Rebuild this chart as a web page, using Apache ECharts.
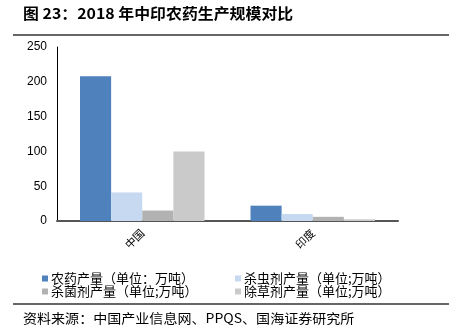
<!DOCTYPE html>
<html>
<head>
<meta charset="utf-8">
<script src="https://cdn.jsdelivr.net/npm/echarts@6/dist/echarts.min.js"></script>
<style>
  html, body { margin: 0; padding: 0; background: #fff; }
  #chart { width: 449px; height: 332px; }
</style>
</head>
<body>
<div id="chart"></div>
<script>
// Countries on the category axis
var categories = ['中国', '印度'];

// Production volumes, 10k tonnes
var totalOutput = [208, 22];
var insecticideOutput = [41, 10];
var fungicideOutput = [15, 6];
var herbicideOutput = [100, 2.5];

var seriesNames = [
  '农药产量（单位：万吨）',
  '杀虫剂产量（单位;万吨）',
  '杀菌剂产量（单位;万吨）',
  '除草剂产量（单位;万吨）'
];
var seriesColors = ['#4F81BD', '#C6D9F1', '#B2B2B2', '#CACACA'];

var yTicks = { min: 0, max: 250, interval: 50 };

var cjk = '"Noto Sans CJK SC", "Noto Sans", sans-serif';
var latin = '"Liberation Sans", Arial, sans-serif';

var chart = echarts.init(document.getElementById('chart'));

function bar(i, values) {
  return {
    name: seriesNames[i],
    type: 'bar',
    data: values,
    barGap: '0%',
    barCategoryGap: '27%',
    itemStyle: { color: seriesColors[i] },
    silent: true
  };
}

function legendColumn(names, left) {
  return {
    data: names,
    orient: 'vertical',
    left: left, top: 272, padding: 0,
    itemWidth: 6, itemHeight: 6, itemGap: 0,
    icon: 'rect',
    textStyle: { fontSize: 13, lineHeight: 11, color: '#000', fontFamily: cjk, padding: [0, 0, 0, -2] }
  };
}

chart.setOption({
  animation: false,
  grid: { left: 57, right: 51, top: 47, bottom: 111, containLabel: false },
  xAxis: {
    type: 'category',
    data: categories,
    axisLine: { show: true, lineStyle: { color: '#555', width: 2 } },
    axisTick: { show: false },
    axisLabel: { rotate: 45, margin: 10, fontSize: 11, color: '#000', fontFamily: cjk }
  },
  yAxis: {
    type: 'value',
    min: yTicks.min,
    max: yTicks.max,
    interval: yTicks.interval,
    axisLine: { show: true, lineStyle: { color: '#000', width: 1 } },
    axisTick: { show: false },
    splitLine: { show: false },
    axisLabel: { margin: 10, fontSize: 12, color: '#000', fontFamily: latin }
  },
  legend: [
    legendColumn([seriesNames[0], seriesNames[2]], 42),
    legendColumn([seriesNames[1], seriesNames[3]], 235)
  ],
  series: [
    bar(0, totalOutput),
    bar(1, insecticideOutput),
    bar(2, fungicideOutput),
    bar(3, herbicideOutput)
  ],
  graphic: [
    {
      type: 'text', x: 23, y: 13, scaleX: 1.06,
      style: {
        text: '图 23：2018 年中印农药生产规模对比',
        font: 'bold 15px ' + cjk, fill: '#000',
        textAlign: 'left', textVerticalAlign: 'middle'
      }
    },
    {
      type: 'line',
      shape: { x1: 13, y1: 35, x2: 449, y2: 35 },
      style: { stroke: '#333', lineWidth: 1.5 }
    },
    {
      type: 'line',
      shape: { x1: 13, y1: 304, x2: 449, y2: 304 },
      style: { stroke: '#333', lineWidth: 1.5 }
    },
    {
      type: 'text', x: 23, y: 318, scaleX: 1.08,
      style: {
        text: '资料来源：中国产业信息网、PPQS、国海证券研究所',
        font: '13px ' + cjk, fill: '#000',
        textAlign: 'left', textVerticalAlign: 'middle'
      }
    }
  ]
});
</script>
</body>
</html>
